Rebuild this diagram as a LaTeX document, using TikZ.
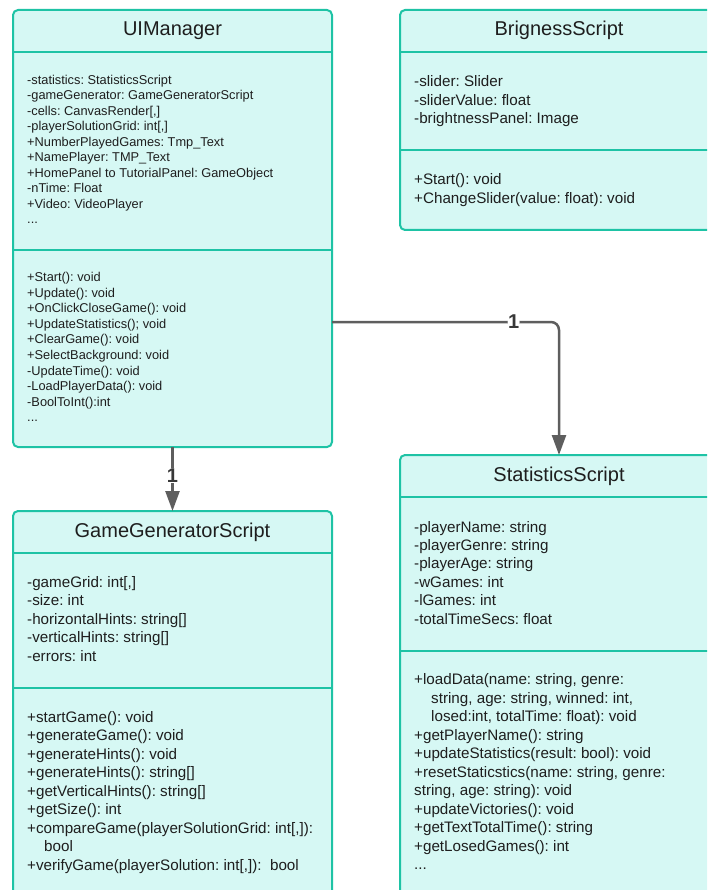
\documentclass[tikz,border=0pt]{standalone}
\usepackage{fontspec}
\setmainfont{Liberation Sans}
\usetikzlibrary{arrows.meta}
\definecolor{boxfill}{HTML}{D6F8F4}
\definecolor{boxline}{HTML}{1EC3A5}
\definecolor{connclr}{HTML}{5E5E5E}
\definecolor{txt}{HTML}{1E1E1E}
\newcommand{\mdots}{...}
\frenchspacing

\begin{document}
\begin{tikzpicture}[x=1pt,y=-1pt,
  classbox/.style={draw=boxline,fill=boxfill,line width=2pt,rounded corners=5pt,
                   anchor=north west,inner sep=0pt,outer sep=0pt},
  divider/.style={draw=boxline,line width=2pt},
  clsname/.style={font=\fontsize{20}{24}\selectfont,text=txt,anchor=base},
  membsm/.style={font=\fontsize{12.8}{15}\selectfont,text=txt,anchor=base west,inner sep=0pt},
  memb/.style={font=\fontsize{15.2}{18}\selectfont,text=txt,anchor=base west,inner sep=0pt},
  assoc/.style={-{Triangle[length=20pt,width=14pt]},line width=2.5pt,draw=connclr},
  mult/.style={font=\fontsize{20}{22}\selectfont\bfseries,text=connclr!60!black,
               fill=white,inner sep=0.5pt}]
  \useasboundingbox (0,0) rectangle (707,890);
  \clip (0,0) rectangle (707,890);

  % class frames: name/x/y/width/height/header/divider
  \foreach \n/\x/\y/\w/\h/\hd/\dv in {uim/13/10/319/437/52/250,
                                     brgt/400/10/318/220/52/150,
                                     stat/400/455/318/460/497/651,
                                     ggen/13/511/319/404/553/688}{
    \node[classbox,minimum width=\w pt,minimum height=\h pt] (\n) at (\x,\y) {};
    \draw[divider] (\x,\hd) -- (\x+\w,\hd);
    \draw[divider] (\x,\dv) -- (\x+\w,\dv);
  }
  \node[clsname] (uimt)  at (172.5,36)  {UIManager};
  \node[clsname] (brgtt) at (559,36)    {BrignessScript};
  \node[clsname] (statt) at (559,481)   {StatisticsScript};
  \node[clsname] (ggent) at (172.5,537) {GameGeneratorScript};

  % UIManager
  \foreach \t [count=\i from 0] in {{-statistics: StatisticsScript},
      {-gameGenerator: GameGeneratorScript},{-cells: CanvasRender[,]},
      {-playerSolutionGrid: int[,]},{+NumberPlayedGames: Tmp\_Text},
      {+NamePlayer: TMP\_Text},{+HomePanel to TutorialPanel: GameObject},
      {-nTime: Float},{+Video: VideoPlayer},{\mdots}}{
    \node[membsm] (uima\i) at (27,84.5+\i*15.5) {\t};
  }
  \foreach \t [count=\i from 0] in {{+Start(): void},{+Update(): void},
      {+OnClickCloseGame(): void},{+UpdateStatistics(); void},{+ClearGame(): void},
      {+SelectBackground: void},{-UpdateTime(): void},{-LoadPlayerData(): void},
      {-BoolToInt():int},{\mdots}}{
    \node[membsm] (uimm\i) at (27,281.5+\i*15.6) {\t};
  }

  % BrignessScript
  \foreach \t [count=\i from 0] in {{-slider: Slider},{-sliderValue: float},
      {-brightnessPanel: Image}}{
    \node[memb] (brgta\i) at (414,86.5+\i*18.7) {\t};
  }
  \foreach \t [count=\i from 0] in {{+Start(): void},{+ChangeSlider(value: float): void}}{
    \node[memb] (brgtm\i) at (414,185+\i*18.7) {\t};
  }

  % GameGeneratorScript
  \foreach \t [count=\i from 0] in {{-gameGrid: int[,]},{-size: int},
      {-horizontalHints: string[]},{-verticalHints: string[]},{-errors: int}}{
    \node[memb] (ggena\i) at (27,587.5+\i*18.4) {\t};
  }
  \foreach \t [count=\i from 0] in {{+startGame(): void},{+generateGame(): void},
      {+generateHints(): void},{+generateHints(): string[]},
      {+getVerticalHints(): string[]},{+getSize(): int},
      {+compareGame(playerSolutionGrid: int[,]):},{\hspace{17pt}bool},
      {+verifyGame(playerSolution: int[,]):\ \ bool}}{
    \node[memb] (ggenm\i) at (27,722+\i*18.5) {\t};
  }

  % StatisticsScript
  \foreach \t [count=\i from 0] in {{-playerName: string},{-playerGenre: string},
      {-playerAge: string},{-wGames: int},{-lGames: int},{-totalTimeSecs: float}}{
    \node[memb] (stata\i) at (414,532+\i*18.4) {\t};
  }
  \foreach \t [count=\i from 0] in {{+loadData(name: string, genre:},
      {\hspace{17pt}string, age: string, winned: int,},
      {\hspace{17pt}losed:int, totalTime: float): void},
      {+getPlayerName(): string},{+updateStatistics(result: bool): void},
      {+resetStaticstics(name: string, genre:},{string, age: string): void},
      {+updateVictories(): void},{+getTextTotalTime(): string},
      {+getLosedGames(): int},{\mdots}}{
    \node[memb] (statm\i) at (414,684.5+\i*18.5) {\t};
  }

  % associations
  \draw[assoc] (uim.south) -- node[mult,pos=0.45] (mgen) {1} (ggen.north);
  \draw[assoc,rounded corners=8pt] ([yshift=-93.5pt]uim.east) -| node[mult,pos=0.4] (mstat) {1} (stat.north);
\end{tikzpicture}
\end{document}
